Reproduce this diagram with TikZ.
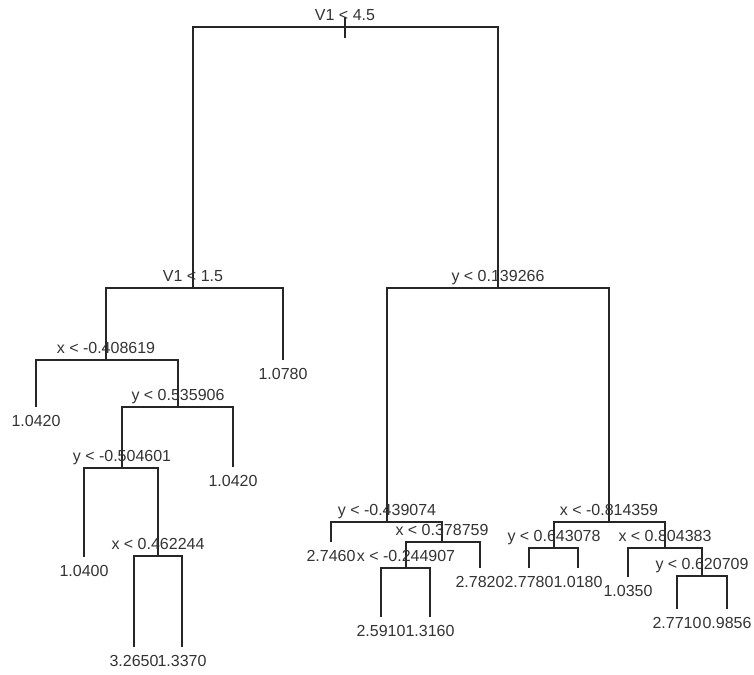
\documentclass[tikz,border=0pt]{standalone}
\usepackage{fontspec}
\setmainfont{Liberation Sans}
\usepackage{tikz}
\usetikzlibrary{positioning}

\begin{document}
\begin{tikzpicture}[
    x=0.75pt, y=-0.75pt,
    split/.style={font=\fontsize{12}{14}\selectfont, text=black!80, inner sep=1pt, text height=8.6pt, text depth=2.6pt},
    leaf/.style={font=\fontsize{12}{14}\selectfont, text=black!80, inner sep=1pt, text height=8.6pt, text depth=0pt},
    branch/.style={draw=black!85, line width=0.8pt}
]
    \useasboundingbox (0,0) rectangle (754,675);

    % Split points
    \coordinate (root) at (345, 27);
    \coordinate (rtop) at (345, 17);
    \coordinate (rbot) at (345, 38);
    \coordinate (a) at (193, 288);
    \coordinate (b) at (498, 288);
    \coordinate (aa) at (106, 360);
    \coordinate (aab) at (178, 407);
    \coordinate (aaba) at (122, 468);
    \coordinate (aabab) at (158, 556);
    \coordinate (ba) at (387, 522);
    \coordinate (bab) at (442, 542);
    \coordinate (baba) at (406, 568);
    \coordinate (bb) at (609, 522);
    \coordinate (bba) at (554, 548);
    \coordinate (bbb) at (665, 548);
    \coordinate (bbbb) at (702, 576);

    % Leaf ends
    \coordinate (l1) at (36, 407);
    \coordinate (l2) at (84, 557);
    \coordinate (l3) at (134, 647);
    \coordinate (l4) at (182, 647);
    \coordinate (l5) at (233, 467);
    \coordinate (l6) at (283, 360);
    \coordinate (l7) at (331, 542);
    \coordinate (l8) at (381, 617);
    \coordinate (l9) at (430, 617);
    \coordinate (l10) at (480, 568);
    \coordinate (l11) at (529, 568);
    \coordinate (l12) at (578, 568);
    \coordinate (l13) at (628, 577);
    \coordinate (l14) at (677, 609);
    \coordinate (l15) at (727, 609);

    % Branches
    \draw[branch] (rtop) -- (rbot);
    \draw[branch] (root) -| (a);
    \draw[branch] (root) -| (b);
    \draw[branch] (a) -| (aa);
    \draw[branch] (a) -| (l6);
    \draw[branch] (aa) -| (l1);
    \draw[branch] (aa) -| (aab);
    \draw[branch] (aab) -| (aaba);
    \draw[branch] (aab) -| (l5);
    \draw[branch] (aaba) -| (l2);
    \draw[branch] (aaba) -| (aabab);
    \draw[branch] (aabab) -| (l3);
    \draw[branch] (aabab) -| (l4);
    \draw[branch] (b) -| (ba);
    \draw[branch] (b) -| (bb);
    \draw[branch] (ba) -| (l7);
    \draw[branch] (ba) -| (bab);
    \draw[branch] (bab) -| (baba);
    \draw[branch] (bab) -| (l10);
    \draw[branch] (baba) -| (l8);
    \draw[branch] (baba) -| (l9);
    \draw[branch] (bb) -| (bba);
    \draw[branch] (bb) -| (bbb);
    \draw[branch] (bba) -| (l11);
    \draw[branch] (bba) -| (l12);
    \draw[branch] (bbb) -| (l13);
    \draw[branch] (bbb) -| (bbbb);
    \draw[branch] (bbbb) -| (l14);
    \draw[branch] (bbbb) -| (l15);

    % Split labels
    \node[split, above=0.8pt of root] (sroot) {V1 < 4.5};
    \node[split, above=0.8pt of a] (sa) {V1 < 1.5};
    \node[split, above=0.8pt of b] (sb) {y < 0.139266};
    \node[split, above=0.8pt of aa] (saa) {x < -0.408619};
    \node[split, above=0.8pt of aab] (saab) {y < 0.535906};
    \node[split, above=0.8pt of aaba] (saaba) {y < -0.504601};
    \node[split, above=0.8pt of aabab] (saabab) {x < 0.462244};
    \node[split, above=0.8pt of ba] (sba) {y < -0.439074};
    \node[split, above=0.8pt of bab] (sbab) {x < 0.378759};
    \node[split, above=0.8pt of baba] (sbaba) {x < -0.244907};
    \node[split, above=0.8pt of bb] (sbb) {x < -0.814359};
    \node[split, above=0.8pt of bba] (sbba) {y < 0.643078};
    \node[split, above=0.8pt of bbb] (sbbb) {x < 0.804383};
    \node[split, above=0.8pt of bbbb] (sbbbb) {y < 0.620709};

    % Leaf values
    \node[leaf, below=5pt of l1] (v1) {1.0420};
    \node[leaf, below=5pt of l2] (v2) {1.0400};
    \node[leaf, below=5pt of l3] (v3) {3.2650};
    \node[leaf, below=5pt of l4] (v4) {1.3370};
    \node[leaf, below=5pt of l5] (v5) {1.0420};
    \node[leaf, below=5pt of l6] (v6) {1.0780};
    \node[leaf, below=5pt of l7] (v7) {2.7460};
    \node[leaf, below=5pt of l8] (v8) {2.5910};
    \node[leaf, below=5pt of l9] (v9) {1.3160};
    \node[leaf, below=5pt of l10] (v10) {2.7820};
    \node[leaf, below=5pt of l11] (v11) {2.7780};
    \node[leaf, below=5pt of l12] (v12) {1.0180};
    \node[leaf, below=5pt of l13] (v13) {1.0350};
    \node[leaf, below=5pt of l14] (v14) {2.7710};
    \node[leaf, below=5pt of l15] (v15) {0.9856};
\end{tikzpicture}
\end{document}
